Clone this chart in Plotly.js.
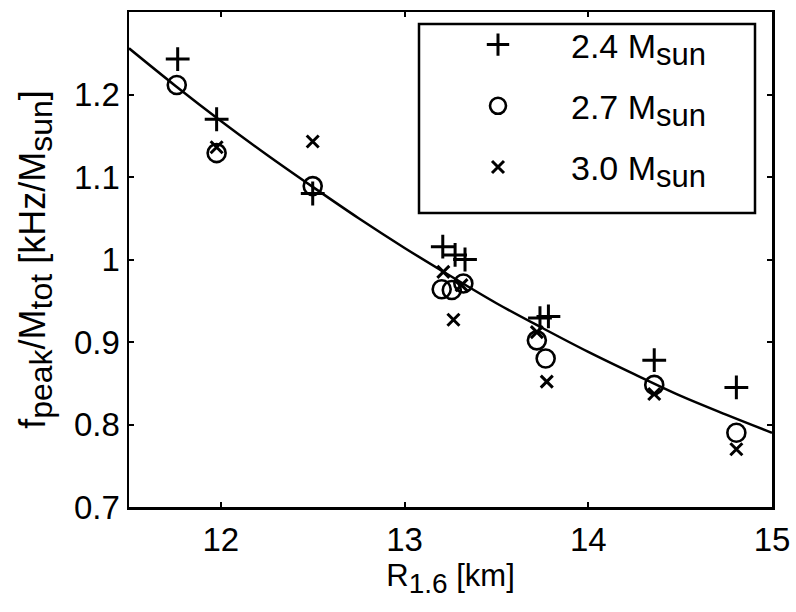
<!DOCTYPE html>
<html>
<head>
<meta charset="utf-8">
<script src="https://cdn.plot.ly/plotly-3.0.1.min.js"></script>
<style>html,body{margin:0;padding:0;background:#fff;}#chart{width:796px;height:612px;}</style>
</head>
<body>
<div id="chart"></div>
<script>
// Radius R_1.6 [km] of each EOS (one x per EOS)
const radius24 = [11.765, 11.977, 12.50, 13.208, 13.275, 13.329, 13.737, 13.783, 14.359, 14.806];
const fpeak24  = [1.243, 1.170, 1.080, 1.0155, 1.0055, 1.000, 0.929, 0.931, 0.878, 0.845];

const radius27 = [11.76, 11.977, 12.50, 13.202, 13.257, 13.32, 13.72, 13.768, 14.359, 14.806];
const fpeak27  = [1.2115, 1.129, 1.089, 0.964, 0.963, 0.971, 0.902, 0.880, 0.848, 0.790];

const radius30 = [11.977, 12.50, 13.211, 13.266, 13.31, 13.72, 13.774, 14.359, 14.806];
const fpeak30  = [1.136, 1.143, 0.985, 0.927, 0.969, 0.912, 0.852, 0.837, 0.770];

// fit curve
const fitR = [11.5, 11.75, 12.0, 12.25, 12.5, 12.75, 13.0, 13.25, 13.5, 13.75, 14.0, 14.25, 14.5, 14.75, 15.0];
const fitF = [1.256, 1.211, 1.168, 1.127, 1.088, 1.050, 1.014, 0.980, 0.947, 0.917, 0.888, 0.861, 0.835, 0.812, 0.790];

const massLabels = ['2.4', '2.7', '3.0'];
const xTicks = [12, 13, 14, 15];
const yTicks = [0.7, 0.8, 0.9, 1.0, 1.1, 1.2];
const yTickText = ['0.7', '0.8', '0.9', '1', '1.1', '1.2'];

const FONT = 'Liberation Sans, Arial, Helvetica, sans-serif';
const sub = (t, px) => '<sub><span style="font-size:' + px + 'px">' + t + '</span></sub>';
const seriesNames = massLabels.map(m => m + ' M' + sub('sun', 31));

const traces = [
  {x: fitR, y: fitF, mode: 'lines', line: {color: '#000', width: 2.5, shape: 'spline'}, showlegend: false, hoverinfo: 'skip'},
  {x: radius24, y: fpeak24, mode: 'markers', name: seriesNames[0], legendgroup: 'a',
   marker: {symbol: 'cross-thin-open', size: 17, color: '#000', line: {color: '#000', width: 3}}},
  {x: radius27, y: fpeak27, mode: 'markers', name: seriesNames[1], legendgroup: 'b',
   marker: {symbol: 'circle-open', size: 18, color: '#000', line: {color: '#000', width: 2.6}}},
  {x: radius30, y: fpeak30, mode: 'markers', name: seriesNames[2], legendgroup: 'c',
   marker: {symbol: 'x-thin-open', size: 12, color: '#000', line: {color: '#000', width: 3}}}
];

const layout = {
  width: 796, height: 612,
  margin: {l: 129, r: 24, t: 12, b: 105},
  paper_bgcolor: '#fff', plot_bgcolor: '#fff',
  font: {family: FONT, color: '#000', size: 33},
  showlegend: true,
  legend: {
    x: (425 - 129) / 643, y: (507 - 16) / 495, xanchor: 'left', yanchor: 'top',
    bgcolor: 'rgba(0,0,0,0)', borderwidth: 0, valign: 'bottom',
    font: {family: FONT, size: 34, color: '#000'},
    tracegroupgap: 14, itemwidth: 136
  },
  shapes: [
    {type: 'rect', xref: 'paper', yref: 'paper',
     x0: (419 - 129) / 643, x1: (755 - 129) / 643, y0: (507 - 213) / 495, y1: (507 - 24) / 495,
     line: {color: '#000', width: 2.5}, fillcolor: 'rgba(0,0,0,0)', layer: 'above'}
  ],
  xaxis: {
    range: [11.5, 15], tickvals: xTicks, ticktext: xTicks.map(String),
    showgrid: false, zeroline: false,
    showline: true, linecolor: '#000', linewidth: 2.5, mirror: 'ticks',
    ticks: 'inside', ticklen: 5, tickwidth: 2, tickcolor: '#000',
    tickfont: {family: FONT, size: 33}, ticklabelstandoff: 2,
    title: {text: 'R' + sub('1.6', 28) + ' [km]', font: {family: FONT, size: 31}, standoff: 6},
    automargin: false
  },
  yaxis: {
    range: [0.7, 1.3], tickvals: yTicks, ticktext: yTickText,
    showgrid: false, zeroline: false,
    showline: true, linecolor: '#000', linewidth: 2.5, mirror: 'ticks',
    ticks: 'inside', ticklen: 5, tickwidth: 2, tickcolor: '#000',
    tickfont: {family: FONT, size: 33},
    title: {text: 'f' + sub('peak', 32) + '/M' + sub('tot', 32) + ' [kHz/M' + sub('sun', 32) + ']',
            font: {family: FONT, size: 36}, standoff: 18},
    automargin: false
  }
};

Plotly.newPlot('chart', traces, layout, {staticPlot: true, displayModeBar: false});
</script>
</body>
</html>
